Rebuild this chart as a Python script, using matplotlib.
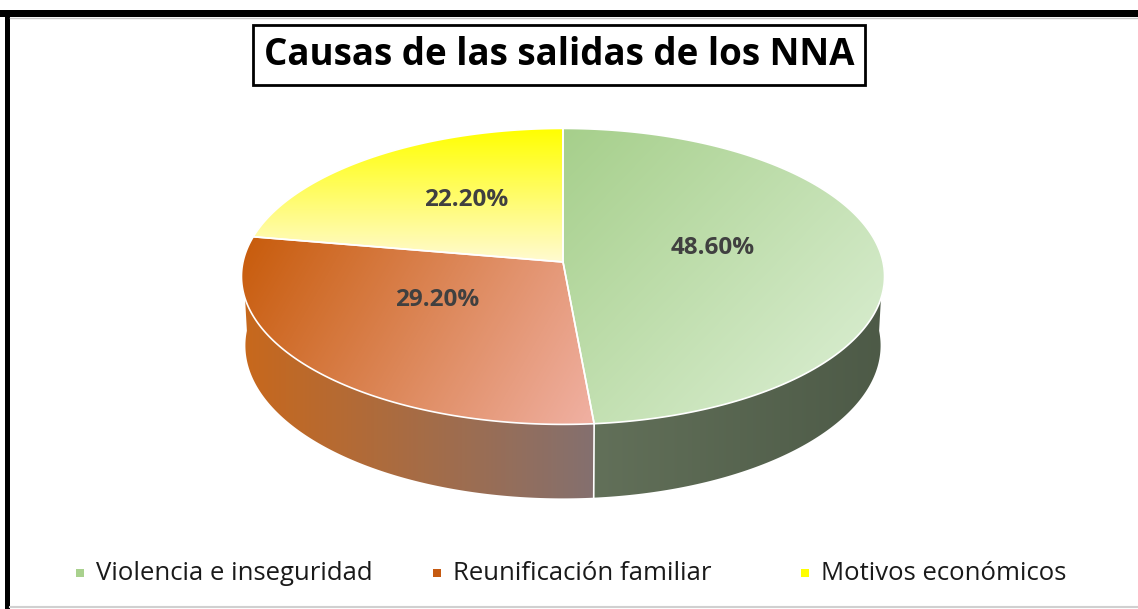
import numpy as np
import matplotlib.pyplot as plt
from matplotlib.patches import Polygon, Rectangle
from matplotlib.colors import LinearSegmentedColormap

# data
categories = ['Violencia e inseguridad', 'Reunificación familiar', 'Motivos económicos']
values = [48.6, 29.2, 22.2]
labels = ['48.60%', '29.20%', '22.20%']
title = 'Causas de las salidas de los NNA'

legend_colors = ['#a9d18e', '#c55a11', '#ffff00']
top_grads = [('#a6cf8b', '#dcefd4'), ('#c85c0c', '#f0b0a2'), ('#ffff00', '#fffad2')]
side_grads = [('#627059', '#4d5a47'), ('#c8681c', '#84706f'), ('#c8681c', '#84706f')]

W, H = 1138, 609
fig = plt.figure(figsize=(W / 100, H / 100), dpi=100)
ax = fig.add_axes([0, 0, 1, 1])
ax.set_xlim(0, W)
ax.set_ylim(H, 0)
ax.axis('off')

# perspective projection of a flat cylinder
cx, cy, S = 563, 262, 320
elev = np.arcsin(0.458)
D = 9.12
h = 0.245


def proj(t, z=0.0):
    x, y = np.cos(t), np.sin(t)
    Y = y * np.sin(elev) + z * np.cos(elev)
    dz = y * np.cos(elev) - z * np.sin(elev)
    f = D / (D + dz)
    return cx + S * x * f, cy - S * Y * f


def grad_image(poly, c0, c1, p0, p1):
    xs = np.arange(200, 920)
    ys = np.arange(110, 520)
    X, Y = np.meshgrid(xs, ys)
    d = np.array(p1, float) - np.array(p0, float)
    t = ((X - p0[0]) * d[0] + (Y - p0[1]) * d[1]) / (d @ d)
    t = np.clip(t, 0, 1)
    cmap = LinearSegmentedColormap.from_list('g', [c0, c1])
    im = ax.imshow(t, cmap=cmap, vmin=0, vmax=1, extent=(200, 920, 520, 110),
                   origin='upper', interpolation='bilinear', zorder=2)
    ax.add_patch(poly)
    im.set_clip_path(poly)


# slice angles, clockwise from 12 o'clock
fr = np.array(values) / sum(values)
starts = np.pi / 2 - 2 * np.pi * np.concatenate([[0], np.cumsum(fr)[:-1]])
ends = starts - 2 * np.pi * fr

# sides (front half only)
for i in range(len(values)):
    a0, a1 = ends[i] % (2 * np.pi), starts[i] % (2 * np.pi)
    if a1 <= a0:
        a1 += 2 * np.pi
    lo, hi = max(a0, np.pi), min(a1, 2 * np.pi)
    if hi <= lo:
        continue
    ts = np.linspace(lo, hi, 200)
    tx, ty = proj(ts)
    bx, by = proj(ts[::-1], -h)
    pts = np.column_stack([np.concatenate([tx, bx]), np.concatenate([ty, by])])
    poly = Polygon(pts, closed=True, facecolor='none', edgecolor='none', zorder=2)
    grad_image(poly, side_grads[i][0], side_grads[i][1], (tx.min(), 0), (tx.max(), 0))
    if hi < 2 * np.pi - 0.01:
        ax.plot([tx[-1], bx[0]], [ty[-1], by[0]], color='white', lw=1.2, zorder=3)

# top faces
grad_dirs = [((560, 130), (860, 420)), ((250, 230), (590, 425)), ((540, 128), (540, 262))]
for i in range(len(values)):
    ts = np.linspace(starts[i], ends[i], 200)
    ex, ey = proj(ts)
    pts = np.column_stack([np.concatenate([[cx], ex]), np.concatenate([[cy], ey])])
    poly = Polygon(pts, closed=True, facecolor='none', edgecolor='none', zorder=4)
    grad_image(poly, top_grads[i][0], top_grads[i][1], *grad_dirs[i])
    ax.add_patch(Polygon(pts, closed=True, facecolor='none', edgecolor='white', lw=1.2, zorder=5))

# value labels
label_pos = [(713, 248), (437, 300), (466, 200)]
for (lx, ly), lab in zip(label_pos, labels):
    ax.text(lx, ly, lab, ha='center', va='center', fontsize=17.5, fontweight='bold',
            color='#404040', family='Open Sans', zorder=6)

# title box
ax.text(559, 55, title, ha='center', va='center', fontsize=26.5, fontweight='bold',
        family='Open Sans', color='black', zorder=6,
        bbox=dict(boxstyle='square,pad=0.3', facecolor='white', edgecolor='black', lw=2))

# legend
leg_x = [80, 437, 805]
for x, name, col in zip(leg_x, categories, legend_colors):
    ax.add_patch(Rectangle((x - 4, 569), 8, 8, facecolor=col, edgecolor='none', zorder=6))
    ax.text(x + 16, 573, name, ha='left', va='center', fontsize=18.5, family='Open Sans',
            color='#1a1a1a', zorder=6)

# frame
ax.add_patch(Rectangle((0, 10), W, 7, facecolor='black', edgecolor='none', zorder=7))
ax.add_patch(Rectangle((5, 10), 5, H, facecolor='black', edgecolor='none', zorder=7))
ax.plot([10, W], [18, 18], color='#c8c8c8', lw=1, zorder=7)
ax.plot([10, W], [607, 607], color='#d0d0d0', lw=1.5, zorder=7)

fig.savefig('out.png', dpi=100)
